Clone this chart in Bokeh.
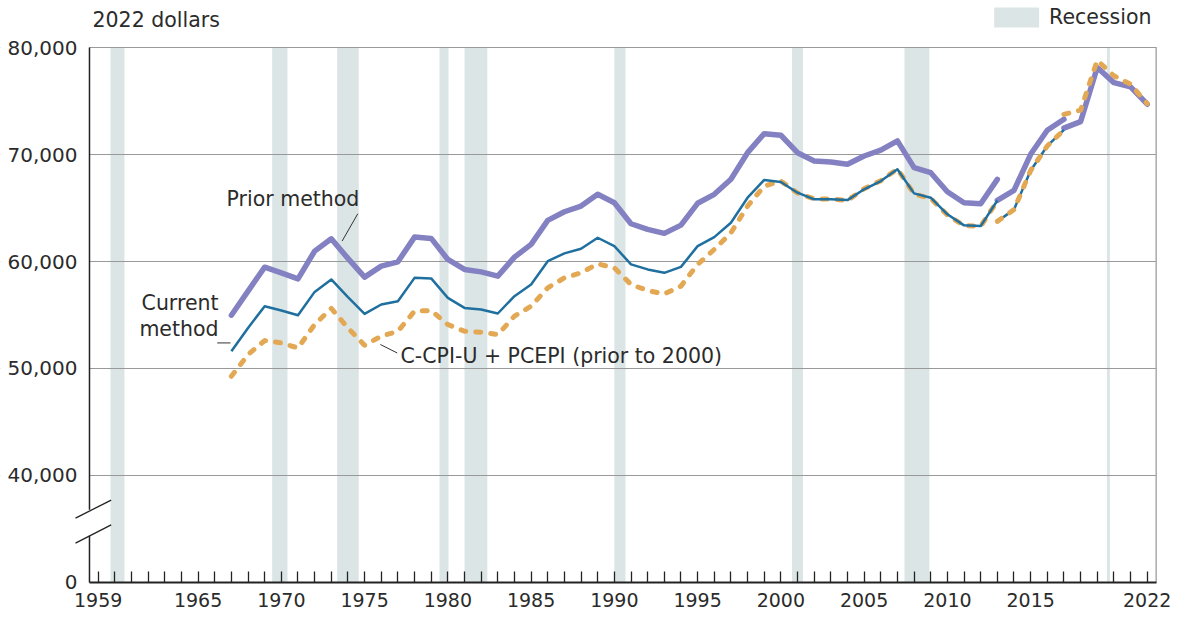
from bokeh.plotting import figure
from bokeh.models import Range1d, FixedTicker, Label
from bokeh.embed import file_html
from bokeh.resources import INLINE

# ---------------- data ----------------
years_a = list(range(1967, 2014))      # 1967-2013 (first 2013 estimate)
years_b = list(range(2013, 2018))      # 2013 (second estimate) - 2017
years_c = list(range(2017, 2023))      # 2017 (second estimate) - 2022

prior_a = [54980, 57230, 59470, 58940, 58380, 60970, 62120, 60290, 58540, 59570,
           59970, 62280, 62160, 60190, 59260, 59030, 58630, 60410, 61600, 63840,
           64650, 65180, 66280, 65490, 63530, 63000, 62630, 63400, 65440, 66280,
           67680, 70170, 71950, 71800, 70170, 69400, 69300, 69090, 69860, 70400,
           71270, 68770, 68300, 66520, 65490, 65400, 67680]
prior_b = [65720, 66650, 70020, 72270, 73300]
prior_c = [72460, 73070, 78130, 76720, 76320, 74700]

current_a = [51610, 53790, 55820, 55420, 54980, 57160, 58320, 56670, 55100, 55980,
             56290, 58470, 58420, 56600, 55660, 55510, 55140, 56760, 57850, 60030,
             60760, 61190, 62220, 61440, 59730, 59260, 58940, 59500, 61440, 62280,
             63620, 65960, 67620, 67430, 66430, 65810, 65810, 65740, 66750, 67520,
             68620, 66370, 65960, 64410, 63380, 63310, 65700]
current_b = [63750, 64850, 68500, 70800, 72300]
current_c = [72460, 73070, 78130, 76720, 76320, 74700]

ccpi_a = [49270, 51300, 52610, 52390, 51920, 54110, 55610, 53790, 52170, 53020,
          53480, 55360, 55420, 54110, 53480, 53390, 53170, 54890, 55820, 57540,
          58470, 58940, 59780, 59410, 57850, 57290, 56970, 57700, 59730, 61130,
          62680, 65180, 67050, 67520, 66400, 65850, 65850, 65700, 66800, 67550,
          68650, 66300, 65900, 64350, 63350, 63300, 65650]
ccpi_b = [63750, 64850, 68500, 70800, 72300]
ccpi_c = [73750, 74150, 78800, 77350, 76570, 74750]

rec_start = [1959.74, 1969.45, 1973.35, 1979.5, 1981.0, 1990.0, 2000.67, 2007.42, 2019.58]
rec_end = [1960.58, 1970.37, 1974.65, 1980.04, 1982.37, 1990.67, 2001.33, 2008.92, 2019.76]

x_labeled = [1959, 1965, 1970, 1975, 1980, 1985, 1990, 1995, 2000, 2005, 2010, 2015, 2022]
y_ticks = [30000, 40000, 50000, 60000, 70000, 80000]
y_tick_labels = ["0", "40,000", "50,000", "60,000", "70,000", "80,000"]

# ---------------- layout / style ----------------
FONT = "DejaVu Sans"
TXT = "#2b2b2b"
AX = "#222222"
PURPLE = "#8481c2"
BLUE = "#1f6f9f"
ORANGE = "#e3a853"
REC = "#dce5e6"

X0, X1 = 1953.134, 2023.76        # visible x extent (frame = whole canvas)
AXIS_X = 1958.478                 # where the value axis sits
RIGHT_X = 2022.54                 # right border of the plotting box
Y0, Y1 = 26635, 84393             # visible y extent (frame = whole canvas)
Y_BASE = 30000                    # where the year axis sits (labelled "0")
Y_TOP = 80000

p = figure(width=1176, height=618, output_backend="svg", toolbar_location=None,
           x_range=Range1d(X0, X1), y_range=Range1d(Y0, Y1),
           min_border_left=0, min_border_right=0, min_border_top=0, min_border_bottom=0)
p.background_fill_color = "white"
p.border_fill_color = "white"
p.outline_line_color = None

# recession bars
r = p.quad(left=rec_start, right=rec_end, bottom=Y_BASE, top=Y_TOP,
           fill_color=REC, line_color=None)
r.level = "image"

# x axis
p.xaxis.fixed_location = Y_BASE
p.xaxis.ticker = FixedTicker(ticks=list(range(1959, 2023)))
p.xaxis.major_label_overrides = {y: (str(y) if y in x_labeled else "") for y in range(1959, 2023)}
p.xaxis.bounds = (AXIS_X, RIGHT_X)
p.xaxis.major_tick_in = 11
p.xaxis.major_tick_out = 0
p.xaxis.minor_tick_line_color = None
p.xaxis.axis_line_width = 2
p.xaxis.axis_line_color = AX
p.xaxis.major_tick_line_color = AX
p.xaxis.major_tick_line_width = 1.3
p.xaxis.major_label_standoff = 11
p.xaxis.major_label_text_font = FONT
p.xaxis.major_label_text_font_size = "19px"
p.xaxis.major_label_text_color = TXT

# y axis (placed at the left edge of the plotting box)
p.yaxis.fixed_location = AXIS_X
p.yaxis.ticker = FixedTicker(ticks=y_ticks)
p.yaxis.major_label_overrides = dict(zip(y_ticks, y_tick_labels))
p.yaxis.major_tick_in = 0
p.yaxis.major_tick_out = 0
p.yaxis.minor_tick_line_color = None
p.yaxis.axis_line_color = None
p.yaxis.major_label_standoff = 12
p.yaxis.major_label_text_font = FONT
p.yaxis.major_label_text_font_size = "20px"
p.yaxis.major_label_text_color = TXT

p.xgrid.grid_line_color = None
p.ygrid.ticker = FixedTicker(ticks=y_ticks[1:])
p.ygrid.grid_line_color = "#999999"
p.ygrid.grid_line_width = 1.2

# hide grid outside the plotting box (left of value axis, right of border)
p.quad(left=[X0, RIGHT_X + 0.03], right=[AXIS_X, X1], bottom=Y0, top=Y1,
       fill_color="white", line_color=None)

# value-axis line with a break, and right border
p.segment(x0=[AXIS_X, AXIS_X], y0=[Y_BASE, 36794], x1=[AXIS_X, AXIS_X], y1=[34364, Y_TOP],
          line_color=AX, line_width=1.5)
p.segment(x0=[1957.64, 1957.64], y0=[36018, 33680], x1=[1959.78, 1959.78], y1=[37700, 35390],
          line_color=AX, line_width=1.3)
p.segment(x0=[RIGHT_X], y0=[Y_BASE], x1=[RIGHT_X], y1=[Y_TOP], line_color="#aaaaaa", line_width=1.5)

# lines (order matters for overlap)
p.line(years_c, current_c, line_color=BLUE, line_width=2.5, line_join="round")
for ys, vals in ((years_a, prior_a), (years_b, prior_b), (years_c, prior_c)):
    p.line(ys, vals, line_color=PURPLE, line_width=5.5, line_join="round", line_cap="round")
p.line(years_a, ccpi_a, line_color=ORANGE, line_width=5, line_dash="5 10",
       line_cap="round", line_join="round")
p.line(years_a, current_a, line_color=BLUE, line_width=2.5, line_join="round")
p.line(years_b, current_b, line_color=BLUE, line_width=2.5, line_join="round")
for ys, vals in ((years_b, ccpi_b), (years_c, ccpi_c)):
    p.line(ys, vals, line_color=ORANGE, line_width=5, line_dash="5 10",
           line_cap="round", line_join="round")

# annotations: labels and leader lines
def lab(x, y, t, align="left", size="20.5px"):
    p.add_layout(Label(x=x, y=y, text=t, text_font=FONT, text_font_size=size,
                       text_color=TXT, text_align=align, text_baseline="middle"))

lab(1966.71, 65840, "Prior method")
lab(1966.23, 56100, "Current", align="right")
lab(1966.23, 53670, "method", align="right")
lab(1977.16, 51140, "C-CPI-U + PCEPI (prior to 2000)")
p.segment(x0=[1974.59, 1966.15, 1975.95], y0=[64460, 52390, 52240],
          x1=[1973.65, 1966.95, 1976.96], y1=[61910, 52390, 51450],
          line_color="#333333", line_width=1)

# unit title and legend
lab(1958.66, 82617, "2022 dollars")
p.quad(left=[2012.81], right=[2015.51], bottom=[81869], top=[83738],
       fill_color=REC, line_color=None)
lab(2016.11, 82897, "Recession")

open("out.html", "w").write(file_html(p, INLINE))
